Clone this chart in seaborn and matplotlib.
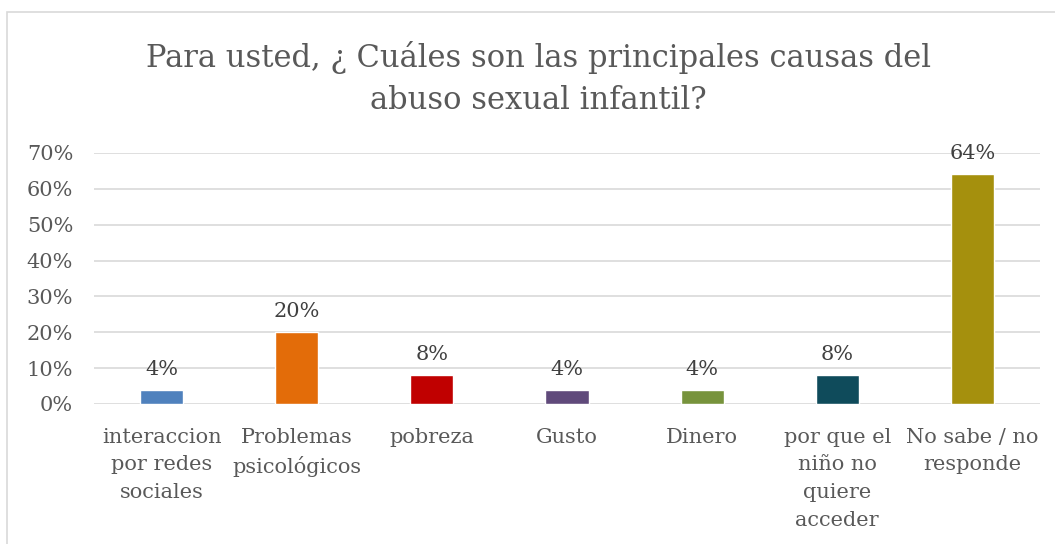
import matplotlib
matplotlib.use("Agg")
import matplotlib.pyplot as plt
import seaborn as sns
import pandas as pd
from matplotlib.patches import Rectangle
from matplotlib.ticker import PercentFormatter

# data
categories = [
    "interaccion\npor redes\nsociales",
    "Problemas\npsicológicos",
    "pobreza",
    "Gusto",
    "Dinero",
    "por que el\nniño no\nquiere\nacceder",
    "No sabe / no\nresponde",
]
values = [0.04, 0.20, 0.08, 0.04, 0.04, 0.08, 0.64]
labels = ["4%", "20%", "8%", "4%", "4%", "8%", "64%"]
colors = ["#4F81BD", "#E36C09", "#C00000", "#604A7B", "#77933C", "#0F4B5B", "#A5900D"]

title = "Para usted, ¿ Cuáles son las principales causas del\nabuso sexual infantil?"
txt = "#595959"

sns.set_theme(style="white")
plt.rcParams["font.family"] = ["DejaVu Serif"]

df = pd.DataFrame({"cat": categories, "val": values})

fig = plt.figure(figsize=(10.55, 5.44), dpi=100)
ax = fig.add_axes([0.0891, 0.2574, 0.8967, 0.4614])

sns.barplot(data=df, x="cat", y="val", hue="cat", palette=colors,
            width=0.32, saturation=1, legend=False, ax=ax, zorder=3)

ax.set_ylim(0, 0.7)
ax.set_yticks([0, 0.1, 0.2, 0.3, 0.4, 0.5, 0.6, 0.7])
ax.yaxis.set_major_formatter(PercentFormatter(1.0, decimals=0))
ax.grid(axis="y", color="#D9D9D9", linewidth=1.2, zorder=0)
ax.set_axisbelow(True)
for s in ax.spines.values():
    s.set_visible(False)
ax.set_xlabel("")
ax.set_ylabel("")
ax.tick_params(axis="both", length=0, labelsize=15, colors=txt)
ax.tick_params(axis="x", pad=17)
ax.tick_params(axis="y", pad=15)
ax.set_xticks(range(len(categories)))
ax.set_xticklabels(categories, linespacing=1.58, va="top")

# one container per category (hue = category)
for cont, lab in zip(ax.containers, labels):
    ax.bar_label(cont, labels=[lab], padding=8, fontsize=15, color="#404040")

fig.text(0.51, 0.855, title, ha="center", va="center", fontsize=22,
         color=txt, linespacing=1.45)

# chart border
fig.add_artist(Rectangle((7 / 1055, -0.1), 1.2, 1.1 - 12 / 544, transform=fig.transFigure,
                         fill=False, edgecolor="#D9D9D9", linewidth=1.2))

fig.savefig("out.png", dpi=100)
